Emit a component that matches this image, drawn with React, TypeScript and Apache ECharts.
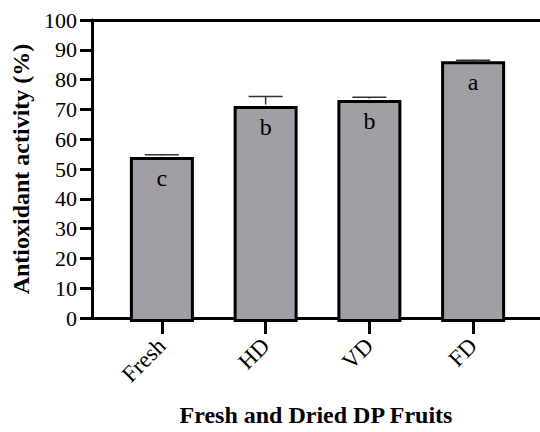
import React, { useEffect, useRef } from "react";
import * as echarts from "echarts";

const categories = ["Fresh", "HD", "VD", "FD"];
const values = [54.6, 71.5, 73.5, 86.3];
const errors = [0.8, 3.2, 0.9, 0.4];
const letters = ["c", "b", "b", "a"];
const yTicks = { min: 0, max: 100, interval: 10 };

const SERIF = "'Liberation Serif', 'Times New Roman', 'DejaVu Serif', serif";

export default function App() {
  const ref = useRef<HTMLDivElement>(null);
  useEffect(() => {
    document.body.style.margin = "0";
    const chart = echarts.init(ref.current!, null, { renderer: "svg" });
    const option: any = {
      animation: false,
      backgroundColor: "#ffffff",
      grid: [
        { left: 92, right: 0, top: 20, bottom: 110 },
        { left: 110, right: 15, top: 20, bottom: 110 },
      ],
      xAxis: [
        {
          type: "value",
          gridIndex: 0,
          min: 0,
          max: 1,
          axisLine: { show: true, lineStyle: { color: "#000", width: 3 } },
          axisTick: { show: false },
          axisLabel: { show: false },
          splitLine: { show: false },
          name: "Fresh and Dried DP Fruits",
          nameLocation: "middle",
          nameGap: 85,
          nameTextStyle: { fontFamily: SERIF, fontWeight: "bold", fontSize: 24, color: "#000" },
        },
        {
          type: "category",
          gridIndex: 1,
          data: categories,
          axisLine: { show: false },
          axisTick: { show: true, alignWithLabel: true, length: 12, lineStyle: { color: "#000", width: 3 } },
          axisLabel: { rotate: 45, margin: 20, fontFamily: SERIF, fontSize: 23, color: "#000" },
          splitLine: { show: false },
        },
        {
          type: "value",
          gridIndex: 0,
          position: "top",
          min: 0,
          max: 1,
          axisLine: { show: true, lineStyle: { color: "#000", width: 3 } },
          axisTick: { show: false },
          axisLabel: { show: false },
          splitLine: { show: false },
        },
      ],
      yAxis: [
        {
          type: "value",
          gridIndex: 0,
          min: yTicks.min,
          max: yTicks.max,
          interval: yTicks.interval,
          axisLine: { show: true, lineStyle: { color: "#000", width: 3 } },
          axisTick: { show: true, length: 12, lineStyle: { color: "#000", width: 3 } },
          axisLabel: { margin: 15, fontFamily: SERIF, fontSize: 22, color: "#000" },
          splitLine: { show: false },
          name: "Antioxidant activity (%)",
          nameLocation: "middle",
          nameGap: 57,
          nameTextStyle: { fontFamily: SERIF, fontWeight: "bold", fontSize: 24, color: "#000" },
        },
        {
          type: "value",
          gridIndex: 1,
          min: yTicks.min,
          max: yTicks.max,
          interval: yTicks.interval,
          show: false,
        },
      ],
      series: [
        {
          type: "bar",
          xAxisIndex: 1,
          yAxisIndex: 1,
          data: values,
          barWidth: 64,
          itemStyle: { color: "#a19fa5", borderColor: "#000", borderWidth: 3 },
          label: {
            show: true,
            position: "insideTop",
            distance: 9,
            formatter: (p: any) => letters[p.dataIndex],
            fontFamily: SERIF,
            fontSize: 24,
            color: "#000",
          },
          z: 2,
        },
        {
          type: "custom",
          xAxisIndex: 1,
          yAxisIndex: 1,
          data: values.map((v, i) => [i, v, v + errors[i]]),
          z: 3,
          renderItem: (params: any, api: any) => {
            const x = api.value(0);
            const base = api.coord([x, api.value(1)]);
            const top = api.coord([x, api.value(2)]);
            const half = 17;
            return {
              type: "group",
              children: [
                {
                  type: "line",
                  shape: { x1: base[0], y1: base[1] - 1.5, x2: top[0], y2: top[1] },
                  style: { stroke: "#333", lineWidth: 1.5 },
                },
                {
                  type: "line",
                  shape: { x1: top[0] - half, y1: top[1], x2: top[0] + half, y2: top[1] },
                  style: { stroke: "#333", lineWidth: 1.5 },
                },
              ],
            };
          },
        },
      ],
    };
    chart.setOption(option);
    return () => chart.dispose();
  }, []);
  return <div ref={ref} style={{ width: 540, height: 432 }} />;
}
